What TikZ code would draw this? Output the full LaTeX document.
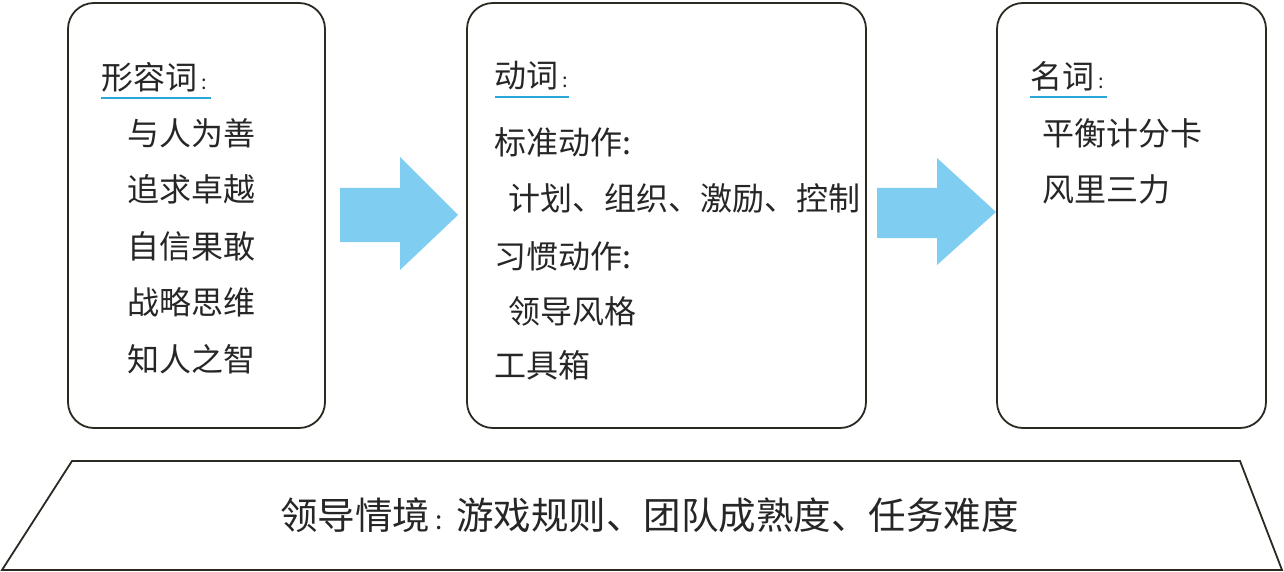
\documentclass[tikz,border=0pt]{standalone}
\usepackage{fontspec}
\setmainfont{Noto Sans CJK SC}
\usetikzlibrary{positioning}
\definecolor{arrowblue}{HTML}{7FCDF0}
\definecolor{ulblue}{HTML}{2BA6D9}
\definecolor{boxline}{HTML}{2A2A22}
\newcommand{\smallcolon}{\hspace{0.12em}{\fontsize{20}{20}\selectfont :}}
\begin{document}
\begin{tikzpicture}[x=1pt,y=-1pt,
  card/.style={draw=boxline,line width=1.8pt,rounded corners=26pt},
  txt/.style={anchor=west,inner sep=0pt,font=\fontsize{32}{32}\selectfont,text=black!85},
  bigtxt/.style={anchor=west,inner sep=0pt,font=\fontsize{37.5}{37.5}\selectfont,text=black!85},
  ul/.style={draw=ulblue,line width=2pt},
  bigarrow/.style={fill=arrowblue,draw=none}]
\useasboundingbox (0,0) rectangle (1284,572);
% cards
\draw[card] (68,3) rectangle (325,428);
\draw[card] (467,3) rectangle (866,428);
\draw[card] (997,3) rectangle (1266,428);
% arrows
\fill[bigarrow] (340,188) -- (400,188) -- (400,157) -- (458,215) -- (400,270) -- (400,242) -- (340,242) -- cycle;
\fill[bigarrow] (877,188) -- (937,188) -- (937,158) -- (996,212) -- (937,265) -- (937,238) -- (877,238) -- cycle;
% box 1
\node[txt] (h1) at (101,77) {形容词\smallcolon};
\draw[ul] (101,98) -- (211,98);
\node[txt] (a1) at (127,133) {与人为善};
\node[txt] (a2) at (127,189) {追求卓越};
\node[txt] (a3) at (127,246) {自信果敢};
\node[txt] (a4) at (127,302) {战略思维};
\node[txt] (a5) at (127,359) {知人之智};
% box 2
\node[txt] (h2) at (494,76) {动词\smallcolon};
\draw[ul] (495,97) -- (569,97);
\node[txt] (b1) at (494,142) {标准动作:};
\node[txt] (b2) at (508,198) {计划、组织、激励、控制};
\node[txt] (b3) at (494,256) {习惯动作:};
\node[txt] (b4) at (508,311) {领导风格};
\node[txt] (b5) at (494,365) {工具箱};
% box 3
\node[txt] (h3) at (1030,76) {名词\smallcolon};
\draw[ul] (1030,97) -- (1107,97);
\node[txt] (c1) at (1042,133) {平衡计分卡};
\node[txt] (c2) at (1042,189) {风里三力};
% base
\draw[boxline,line width=1.8pt] (2,570) -- (72,461) -- (1240,461) -- (1282,570) -- cycle;
\node[bigtxt] (base) at (280,515) {领导情境\hspace{0.15em}{\fontsize{26}{26}\selectfont :}\hspace{0.35em}游戏规则、团队成熟度、任务难度};
\end{tikzpicture}
\end{document}
